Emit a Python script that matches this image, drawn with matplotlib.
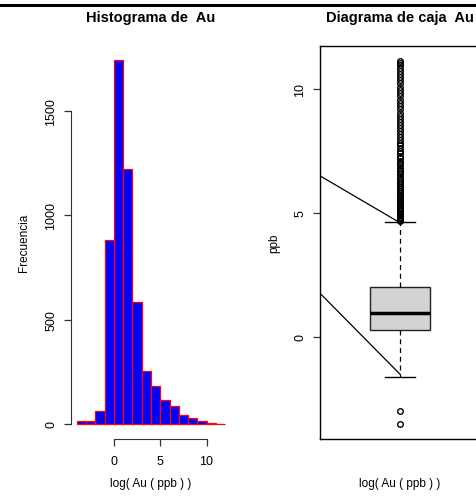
import numpy as np
import matplotlib.pyplot as plt
from matplotlib.lines import Line2D

plt.rcParams['font.family'] = ['Liberation Sans', 'DejaVu Sans']

# histogram of log(Au) - bins of width 1 from -4 to 12
bin_edges = [-4, -3, -2, -1, 0, 1, 2, 3, 4, 5, 6, 7, 8, 9, 10, 11, 12]
counts = [16, 12, 64, 883, 1742, 1222, 582, 252, 183, 116, 88, 43, 27, 13, 5, 2]

# boxplot statistics
q1, med, q3 = 0.28, 0.98, 2.0
whis_lo, whis_hi = -1.63, 4.65
out_low = [-3.0, -3.5]
out_high = [4.66, 4.70, 4.75, 4.80, 4.85, 4.90, 4.95, 5.01, 5.07, 5.13, 5.19, 5.25,
            5.31, 5.38, 5.45, 5.52, 5.59, 5.66, 5.73, 5.80, 5.88, 5.96, 6.04, 6.12,
            6.20, 6.28, 6.37, 6.46, 6.55, 6.64, 6.73, 6.82, 6.91, 7.00, 7.10, 7.20,
            7.30, 7.40, 7.50, 7.61, 7.72, 7.83, 7.94, 8.05, 8.17, 8.29, 8.41, 8.53,
            8.65, 8.78, 8.91, 9.04, 9.17, 9.30, 9.43, 9.56, 9.69, 9.82, 9.95, 10.08,
            10.21, 10.34, 10.47, 10.60, 10.72, 10.84, 10.95, 11.05, 11.13]

# extra reference lines drawn on the boxplot
line_a = ([0.5, 1.0], [6.49, 4.60])
line_b = ([0.5, 1.0], [1.76, -1.50])

W, H = 477, 502
fig = plt.figure(figsize=(W / 100, H / 100), dpi=100)

def px_axes(x0, y0, x1, y1):
    return fig.add_axes([x0 / W, 1 - y1 / H, (x1 - x0) / W, (y1 - y0) / H])

tick_fs = 9
lab_fs = 8.5
title_fs = 10.5
axc = '#333333'
xlab_y = -0.098

# ---- histogram ----
ax1 = px_axes(71, 47, 231, 439.5)
lefts = bin_edges[:-1]
widths = np.diff(bin_edges)
ax1.bar(lefts, counts, width=widths, align='edge', color='#0000FF',
        edgecolor='red', linewidth=0.9)
ax1.set_xlim(-4.64, 12.64)
ax1.set_ylim(-69.6, 1809.6)
for s in ['top', 'right']:
    ax1.spines[s].set_visible(False)
ax1.spines['left'].set_bounds(0, 1500)
ax1.spines['bottom'].set_bounds(0, 10)
for s in ['left', 'bottom']:
    ax1.spines[s].set_color(axc)
ax1.set_xticks([0, 5, 10])
ax1.set_yticks([0, 500, 1000, 1500])
ax1.set_yticklabels(['0', '500', '1000', '1500'], rotation=90, va='center')
ax1.tick_params(axis='both', length=5, width=0.9, color=axc, labelsize=tick_fs)
ax1.tick_params(axis='x', pad=7)
ax1.tick_params(axis='y', pad=5)
ax1.set_xlabel('log( Au ( ppb ) )', fontsize=lab_fs)
ax1.xaxis.set_label_coords(0.5, xlab_y)
ax1.set_ylabel('Frecuencia', fontsize=lab_fs, labelpad=11)
ax1.set_title('Histograma de  Au', fontsize=title_fs, fontweight='bold', pad=18)

# ---- boxplot ----
ax2 = px_axes(320, 47, 480, 439.5)
stats = [dict(med=med, q1=q1, q3=q3, whislo=whis_lo, whishi=whis_hi,
              fliers=out_low + out_high)]
ax2.bxp(stats, positions=[1], widths=0.375, patch_artist=True,
        boxprops=dict(facecolor='#D3D3D3', edgecolor='#222222', linewidth=1),
        medianprops=dict(color='black', linewidth=2.5),
        whiskerprops=dict(color='black', linewidth=0.9, linestyle=(0, (4, 3))),
        capprops=dict(color='black', linewidth=1),
        capwidths=0.1875,
        flierprops=dict(marker='o', markersize=4, markerfacecolor='none',
                        markeredgecolor='black', markeredgewidth=1))
ax2.plot(*line_a, color='black', linewidth=0.9)
ax2.plot(*line_b, color='black', linewidth=0.9)
ax2.set_xlim(0.5, 1.5)
ax2.set_ylim(-4.09, 11.72)
ax2.set_xticks([])
ax2.set_yticks([0, 5, 10])
ax2.set_yticklabels(['0', '5', '10'], rotation=90, va='center')
ax2.tick_params(axis='y', length=5, width=0.9, color=axc, labelsize=tick_fs, pad=5)
for s in ax2.spines.values():
    s.set_color('black')
    s.set_linewidth(1)
ax2.set_xlabel('log( Au ( ppb ) )', fontsize=lab_fs)
ax2.xaxis.set_label_coords(0.5, xlab_y)
ax2.set_ylabel('ppb', fontsize=lab_fs, labelpad=10)
ax2.set_title('Diagrama de caja  Au', fontsize=title_fs, fontweight='bold', pad=18)

# thick line along the top edge
fig.add_artist(Line2D([0, 1], [1 - 6 / H, 1 - 6 / H], transform=fig.transFigure,
                      color='black', linewidth=2.2))

fig.savefig('out.png', dpi=100)
